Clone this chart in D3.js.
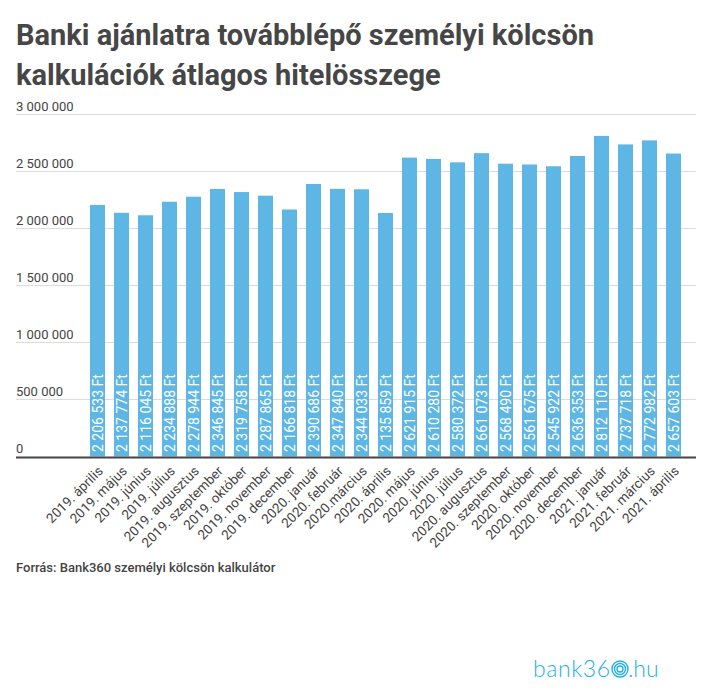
<!DOCTYPE html>
<html><head><meta charset="utf-8">
<script src="https://cdn.jsdelivr.net/npm/d3@7"></script>
<style>
html,body{margin:0;padding:0;background:#fff;}
svg{display:block;font-family:Roboto,"Noto Sans",sans-serif;}
</style></head>
<body>
<svg id="chart" width="716" height="700"></svg>
<script>
const titleLines = ["Banki ajánlatra továbblépő személyi kölcsön", "kalkulációk átlagos hitelösszege"];
const months = ["2019. április","2019. május","2019. június","2019. július","2019. augusztus","2019. szeptember","2019. október","2019. november","2019. december","2020. január","2020. február","2020.március","2020. április","2020. május","2020. június","2020. július","2020. augusztus","2020. szeptember","2020. október","2020. november","2020. december","2021. január","2021. február","2021. március","2021. április"];
const values = [2206533,2137774,2116045,2234888,2278944,2346845,2319758,2287865,2166818,2390686,2347840,2344033,2135859,2621915,2610280,2580372,2661073,2568490,2561675,2545922,2636353,2812110,2737718,2772982,2657603];
const yTicks = [0,500000,1000000,1500000,2000000,2500000,3000000];
const sourceText = "Forrás: Bank360 személyi kölcsön kalkulátor";

const fmt = v => d3.format(",")(v).replace(/,/g, " ");
const svg = d3.select("#chart");

svg.selectAll("text.title").data(titleLines).join("text")
  .attr("class","title").attr("x",16).attr("y",(d,i)=>45+i*40)
  .attr("font-size",29).attr("font-weight",700).attr("fill","#464646").text(d=>d);

const x = d3.scaleBand().domain(months).range([85.5,685.5]).paddingInner(0.375).paddingOuter(0.1875);
const y = d3.scaleLinear().domain([0,3000000]).range([456.5,114.5]);

const grid = svg.append("g");
grid.selectAll("line").data(yTicks.filter(d=>d>0)).join("line")
  .attr("x1",16).attr("x2",696).attr("y1",d=>y(d)).attr("y2",d=>y(d))
  .attr("stroke","#dcdcdc").attr("stroke-width",1.2);
grid.selectAll("text").data(yTicks).join("text")
  .attr("x",16).attr("y",d=>y(d)-4).attr("font-size",13).attr("fill","#444")
  .text(d=>fmt(d));

svg.append("g").selectAll("rect").data(values).join("rect")
  .attr("x",(d,i)=>x(months[i])).attr("width",x.bandwidth())
  .attr("y",d=>y(d)).attr("height",d=>y(0)-y(d)).attr("fill","#5eb6e4");

svg.append("g").selectAll("text").data(values).join("text")
  .attr("transform",(d,i)=>`translate(${x(months[i])+x.bandwidth()/2},452) rotate(-90)`)
  .attr("dy","0.36em").attr("font-size",14).attr("fill","#fff")
  .text(d=>fmt(d)+" Ft");

svg.append("line").attr("x1",16).attr("x2",696).attr("y1",y(0)+1).attr("y2",y(0)+1)
  .attr("stroke","#444").attr("stroke-width",2);

svg.append("g").selectAll("text").data(months).join("text")
  .attr("transform",d=>`translate(${x(d)+x.bandwidth()/2},465.5) rotate(-45)`)
  .attr("dy",9).attr("text-anchor","end").attr("font-size",13.5).attr("fill","#444")
  .text(d=>d);

svg.append("text").attr("x",16).attr("y",572).attr("font-size",13).attr("font-weight",500)
  .attr("fill","#444").text(sourceText);

const logo = svg.append("g").attr("fill","#1fb0e8");
logo.append("text").attr("x",533).attr("y",677).attr("font-size",23).attr("font-weight",300)
  .attr("font-family","Lato, Roboto, sans-serif").attr("textLength",77).attr("lengthAdjust","spacing").text("bank36");
[8,5.5,3].forEach(r=>logo.append("circle").attr("cx",620).attr("cy",669).attr("r",r)
  .attr("fill","none").attr("stroke","#1fb0e8").attr("stroke-width",1.4));
logo.append("text").attr("x",628).attr("y",677).attr("font-size",23).attr("font-weight",300)
  .attr("font-family","Lato, Roboto, sans-serif").text(".hu");
</script>
</body></html>
